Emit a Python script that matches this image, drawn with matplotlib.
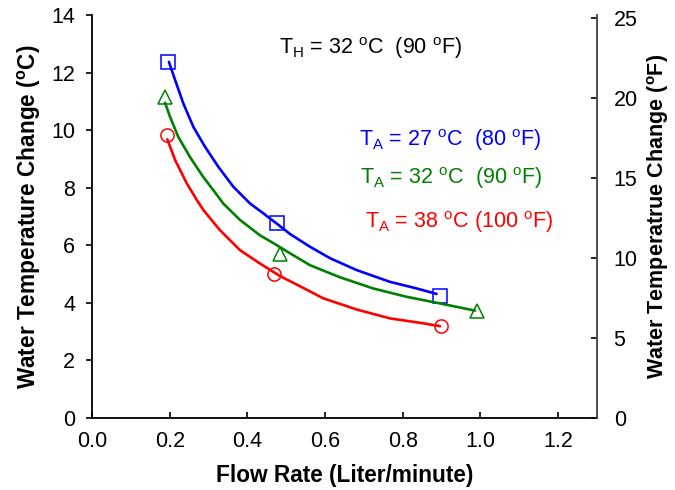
import numpy as np
import matplotlib
matplotlib.use('Agg')
import matplotlib.pyplot as plt

plt.rcParams['font.family'] = ['Liberation Sans', 'DejaVu Sans']
plt.rcParams['mathtext.default'] = 'regular'

# Measured points (flow rate in L/min, temperature change in deg C)
blue_x = [0.195, 0.475, 0.895]
blue_y = [12.35, 6.76, 4.24]
green_x = [0.188, 0.484, 0.99]
green_y = [11.15, 5.69, 3.73]
red_x = [0.192, 0.468, 0.898]
red_y = [9.83, 4.99, 3.19]

# Smoothed curves
blue_cx = [0.198, 0.214, 0.235, 0.261, 0.291, 0.325, 0.364, 0.407, 0.441, 0.475,
           0.510, 0.561, 0.613, 0.681, 0.767, 0.836, 0.887]
blue_cy = [12.37, 11.74, 10.93, 10.11, 9.42, 8.73, 8.03, 7.45, 7.11, 6.76,
           6.39, 5.95, 5.55, 5.14, 4.73, 4.50, 4.31]
green_cx = [0.188, 0.201, 0.222, 0.252, 0.286, 0.312, 0.338, 0.381, 0.432, 0.475,
            0.510, 0.561, 0.638, 0.724, 0.810, 0.896, 0.986]
green_cy = [10.95, 10.46, 9.77, 9.07, 8.38, 7.92, 7.45, 6.88, 6.35, 6.01,
            5.72, 5.31, 4.89, 4.50, 4.21, 3.98, 3.73]
red_cx = [0.194, 0.214, 0.244, 0.270, 0.287, 0.329, 0.381, 0.432, 0.484, 0.535,
          0.595, 0.681, 0.767, 0.853, 0.896]
red_cy = [9.68, 8.96, 8.15, 7.57, 7.22, 6.53, 5.83, 5.37, 4.93, 4.58,
          4.16, 3.77, 3.46, 3.29, 3.19]

x_ticks = [0.0, 0.2, 0.4, 0.6, 0.8, 1.0, 1.2]
yc_ticks = [0, 2, 4, 6, 8, 10, 12, 14]
yf_ticks = [0, 5, 10, 15, 20, 25]

fig = plt.figure(figsize=(6.75, 4.9), dpi=100)
ax = fig.add_axes([92 / 675, 1 - 418 / 490, 505 / 675, 403 / 490])

series = [
    (blue_cx, blue_cy, blue_x, blue_y, '#0000ff', 's'),
    (green_cx, green_cy, green_x, green_y, '#008000', '^'),
    (red_cx, red_cy, red_x, red_y, '#ff0000', 'o'),
]
for cx, cy, px, py, col, mk in series:
    ax.plot(cx, cy, color=col, linewidth=1.9, solid_capstyle='round',
            solid_joinstyle='round')
    ax.plot(px, py, linestyle='none', marker=mk, markersize=9.5,
            markerfacecolor='none', markeredgecolor=col, markeredgewidth=1.1)

ax.set_xlim(0, 1.3)
ax.set_ylim(0, 14)
ax.set_xticks(x_ticks)
ax.set_xticklabels([f'{v:.1f}' for v in x_ticks])
ax.set_yticks(yc_ticks)

ax.spines['top'].set_visible(False)
ax.spines['right'].set_visible(False)
for s in ['left', 'bottom']:
    ax.spines[s].set_linewidth(1.3)
    ax.spines[s].set_color('black')

ax.tick_params(axis='y', direction='out', length=4, width=1.2, labelsize=15.5, pad=8)
ax.tick_params(axis='x', direction='in', length=4, width=1.2, labelsize=15.5, pad=9)

ax.set_xlabel('Flow Rate (Liter/minute)', fontsize=16.3, fontweight='bold', labelpad=9)
ax.set_ylabel('Water Temperature Change ($^{o}$C)', fontsize=16.3, fontweight='bold',
              labelpad=6)

# right axis in Fahrenheit
ax2 = ax.twinx()
ax2.set_ylim(0, 14 * 1.8)
ax2.set_yticks(yf_ticks)
for s in ['top', 'left', 'bottom']:
    ax2.spines[s].set_visible(False)
ax2.spines['right'].set_color('#404040')
ax2.spines['right'].set_linewidth(1.3)
ax2.tick_params(axis='y', direction='in', length=4, width=1.2, labelsize=15.5, pad=12)
ax2.set_ylabel('Water Temperatrue Change ($^{o}$F)', fontsize=15.5, fontweight='bold',
               labelpad=5)

ax.text(0.716, 12.85, 'T$_{H}$ = 32 $^{o}$C  (90 $^{o}$F)', fontsize=15.5,
        ha='center', va='center', color='black')
ax.text(0.921, 9.65, 'T$_{A}$ = 27 $^{o}$C  (80 $^{o}$F)', fontsize=15.5,
        ha='center', va='center', color='#0000ff')
ax.text(0.924, 8.33, 'T$_{A}$ = 32 $^{o}$C  (90 $^{o}$F)', fontsize=15.5,
        ha='center', va='center', color='#008000')
ax.text(0.945, 6.8, 'T$_{A}$ = 38 $^{o}$C (100 $^{o}$F)', fontsize=15.5,
        ha='center', va='center', color='#ff0000')

fig.savefig('out.png', dpi=100)
